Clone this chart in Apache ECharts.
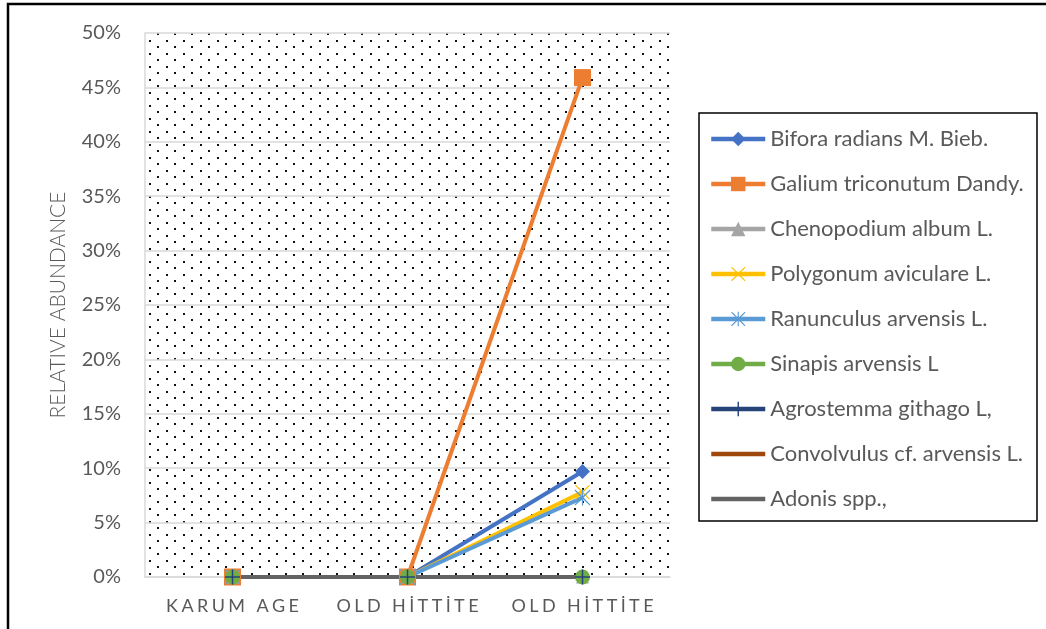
<!DOCTYPE html>
<html>
<head>
<meta charset="utf-8">
<script src="https://cdn.jsdelivr.net/npm/echarts@6/dist/echarts.min.js"></script>
<style>
  html, body { margin: 0; padding: 0; background: #fff; }
  #chart { width: 1046px; height: 629px; }
</style>
</head>
<body>
<div id="chart"></div>
<script>
// Periods on the horizontal axis
const categories = ['KARUM AGE', 'OLD HİTTİTE', 'OLD HİTTİTE'];

// Relative abundance (fraction) of each taxon per period
const bifora      = [0, 0, 0.097];
const galium      = [0, 0, 0.459];
const chenopodium = [0, 0, 0];
const polygonum   = [0, 0, 0.078];
const ranunculus  = [0, 0, 0.073];
const sinapis     = [0, 0, 0];
const agrostemma  = [0, 0, 0];
const convolvulus = [0, 0, 0];
const adonis      = [0, 0, 0];

const seriesNames = [
  'Bifora radians M. Bieb.',
  'Galium triconutum Dandy.',
  'Chenopodium album L.',
  'Polygonum aviculare L.',
  'Ranunculus arvensis L.',
  'Sinapis arvensis L',
  'Agrostemma githago L,',
  'Convolvulus cf. arvensis L.',
  'Adonis spp.,'
];
const seriesValues = [bifora, galium, chenopodium, polygonum, ranunculus,
                      sinapis, agrostemma, convolvulus, adonis];

const FONT = 'Lato';
const TEXT = '#595959';

// Marker shapes
const X_PATH = 'path://M1,0L10,8.6L19,0L20,1L11.4,10L20,19L19,20L10,11.4L1,20L0,19L8.6,10L0,1Z';
const STAR_PATH = X_PATH + 'M9.2,0L10.8,0L10.8,20L9.2,20Z';
const PLUS_PATH = 'path://M9,0L11,0L11,9L20,9L20,11L11,11L11,20L9,20L9,11L0,11L0,9L9,9Z';

const styles = [
  { color: '#4472C4', symbol: 'diamond', size: 15 },
  { color: '#ED7D31', symbol: 'rect',    size: 17 },
  { color: '#A5A5A5', symbol: 'triangle',size: 13 },
  { color: '#FFC000', symbol: X_PATH,    size: 15 },
  { color: '#5B9BD5', symbol: STAR_PATH, size: 16 },
  { color: '#70AD47', symbol: 'circle',  size: 15 },
  { color: '#264478', symbol: PLUS_PATH, size: 15 },
  { color: '#9E480E', symbol: 'none',    size: 0 },
  { color: '#636363', symbol: 'none',    size: 0 }
];

// Staggered dot fill for the plot area
const dots = document.createElement('canvas');
dots.width = 17; dots.height = 13;
const dctx = dots.getContext('2d');
dctx.fillStyle = '#fff';
dctx.fillRect(0, 0, 17, 13);
dctx.fillStyle = '#111';
dctx.fillRect(13, 1, 2, 2);
dctx.fillRect(4, 7, 2, 2);

// Spread the letters of the category labels apart
function spaced(v) {
  return v.split('').map(ch => '{c|' + ch + '}').join('');
}

// Legend entries; series drawn without markers show only their line
const legendData = seriesNames.map((name, i) =>
  styles[i].symbol === 'none'
    ? { name: name, itemStyle: { opacity: 0 } }
    : { name: name });

const chart = echarts.init(document.getElementById('chart'), null, { renderer: 'canvas' });

chart.setOption({
  animation: false,
  backgroundColor: '#fff',
  grid: {
    left: 145, right: 376, top: 33, bottom: 52,
    show: true,
    backgroundColor: { image: dots, repeat: 'repeat' },
    borderWidth: 0
  },
  legend: {
    orient: 'vertical',
    left: 709,
    top: 128,
    itemWidth: 54,
    itemHeight: 18,
    itemGap: 23,
    padding: 0,
    lineStyle: { width: 4.5 },
    textStyle: { fontFamily: FONT, fontSize: 22, color: TEXT, lineHeight: 22 },
    data: legendData
  },
  xAxis: {
    type: 'category',
    data: categories,
    boundaryGap: true,
    axisLine: { show: true, lineStyle: { color: '#D9D9D9', width: 1.5 } },
    axisTick: { show: false },
    axisLabel: {
      interval: 0,
      margin: 20,
      formatter: spaced,
      rich: {
        c: { fontFamily: FONT, fontSize: 18, color: TEXT, padding: [0, 1.7, 0, 1.7] }
      }
    }
  },
  yAxis: {
    type: 'value',
    min: 0,
    max: 0.5,
    interval: 0.05,
    name: 'RELATIVE ABUNDANCE',
    nameLocation: 'middle',
    nameGap: 76,
    nameTextStyle: { fontFamily: FONT, fontSize: 21, color: TEXT, fontWeight: 300 },
    axisLine: { show: true, lineStyle: { color: '#D9D9D9', width: 1.5 } },
    axisTick: { show: false },
    splitLine: { show: true, lineStyle: { color: '#D9D9D9', width: 1.5 } },
    axisLabel: {
      margin: 24,
      fontFamily: FONT,
      fontSize: 20,
      color: TEXT,
      formatter: v => Math.round(v * 100) + '%'
    }
  },
  graphic: [
    {
      type: 'rect',
      shape: { x: 8, y: 4, width: 1100, height: 700 },
      style: { fill: 'none', stroke: '#000', lineWidth: 2.5 },
      silent: true, z: 100
    },
    {
      type: 'rect',
      shape: { x: 699, y: 113, width: 338, height: 408 },
      style: { fill: 'none', stroke: '#000', lineWidth: 1.5 },
      silent: true, z: 100
    }
  ],
  series: seriesNames.map((name, i) => ({
    name: name,
    type: 'line',
    data: seriesValues[i],
    symbol: styles[i].symbol,
    symbolSize: styles[i].size,
    showAllSymbol: true,
    lineStyle: { color: styles[i].color, width: 4 },
    itemStyle: { color: styles[i].color, borderWidth: 0 },
    emphasis: { disabled: true }
  }))
});
</script>
</body>
</html>
